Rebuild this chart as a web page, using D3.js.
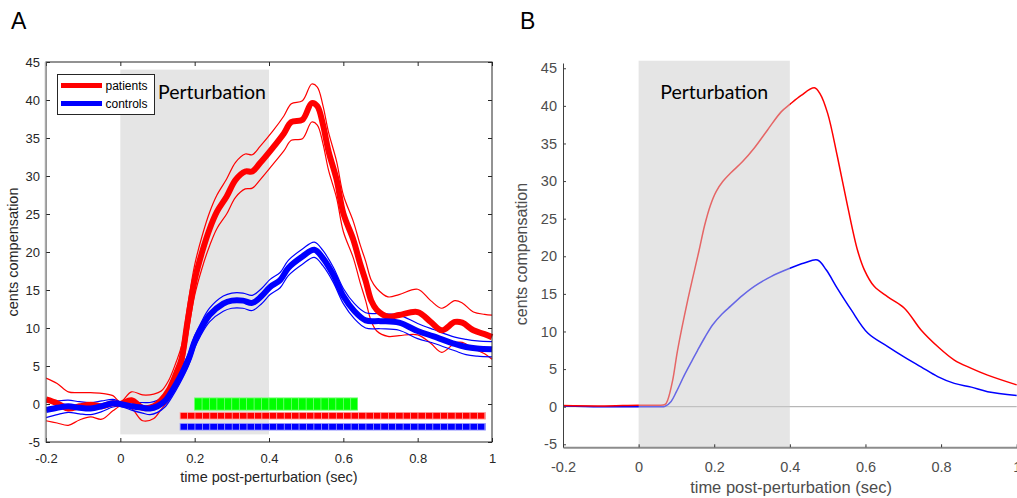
<!DOCTYPE html>
<html>
<head>
<meta charset="utf-8" />
<title>compensation</title>
<script src="https://cdn.jsdelivr.net/npm/d3@7"></script>
<style>
  body { margin: 0; background: #fff; }
  svg text { font-family: "Liberation Sans", Arial, sans-serif; }
  .pert { font-family: Lato, "Open Sans", sans-serif; }
</style>
</head>
<body>
<svg id="chart" width="1017" height="498"></svg>
<script>
  // ---- panel A: group means with +/- SE ----
  var tRed = [-0.2,-0.17,-0.14,-0.11,-0.08,-0.05,-0.02,0,0.03,0.06,0.09,0.11,0.13,0.15,0.165,0.18,0.2,0.22,0.24,0.26,
              0.286,0.31,0.336,0.355,0.376,0.41,0.44,0.46,0.49,0.515,0.53,0.545,0.56,0.582,0.6,0.627,0.645,0.66,0.675,0.69,
              0.72,0.75,0.8,0.835,0.865,0.9,0.92,0.95,0.98,1.0];
  var redMean = [0.6,0.1,-0.6,-0.3,-0.1,-0.3,0.1,0,0.5,-0.5,-0.3,0.5,1.8,4,6,10.6,16.3,20.0,23.0,25.3,
                 27.3,29.5,30.6,30.6,31.7,33.7,35.6,37.1,37.4,39.6,39.2,36.8,33.3,29.5,25.1,21.6,18.5,16.2,13.6,12.4,
                 11.5,11.7,12.1,10.8,9.7,10.8,10.7,9.7,9.2,8.8];
  var redSe = [2.8,2.6,2.2,1.8,1.6,1.7,1.0,0.3,1.1,1.7,1.6,1.2,1.3,1.5,1.7,1.9,2.0,2.1,2.2,2.2,
               2.3,2.3,2.3,2.2,2.2,2.2,2.3,2.4,2.5,2.5,2.5,2.5,2.5,2.4,2.4,2.4,2.5,2.6,2.7,2.8,
               2.6,2.7,3.0,2.8,2.9,2.8,2.6,2.4,2.6,2.9];

  var tBlue = [-0.2,-0.17,-0.14,-0.11,-0.08,-0.05,-0.02,0,0.03,0.06,0.08,0.1,0.12,0.14,0.16,0.183,0.2,0.215,0.24,0.277,
               0.3,0.33,0.355,0.38,0.403,0.43,0.452,0.49,0.522,0.545,0.573,0.6,0.63,0.66,0.7,0.75,0.8,0.843,0.9,0.93,
               0.96,1.0];
  var blueMean = [-0.8,-0.5,-0.3,-0.5,-0.6,-0.3,0.1,0,-0.3,-0.5,-0.6,-0.3,0.4,1.8,3.5,5.8,8.2,9.7,11.7,13.2,
                  13.6,13.6,13.3,14.2,15.4,16.3,17.9,19.4,20.3,19.2,17,14.2,12.2,11,10.9,10.7,9.6,8.9,7.9,7.5,
                  7.3,7.2];
  var blueSe = [1.0,0.9,0.8,0.8,0.8,0.7,0.5,0.3,0.5,0.7,0.8,0.8,0.8,0.8,0.8,0.8,0.8,0.8,0.9,1.0,
                1.0,1.0,1.0,1.0,1.0,1.0,1.0,1.0,1.0,1.0,1.0,1.0,1.0,1.0,1.0,1.0,1.0,0.9,0.9,1.0,
                1.0,1.0];

  // significant periods (sec), one bar each
  var sigStart = [0.2, 0.161, 0.161];
  var sigEnd = [0.638, 0.982, 0.982];
  var sigLevel = [0, -1.55, -3.0];
  var sigColor = ['#00ff00', '#ff0000', '#0000ff'];
  var sigEdge = ['#7dff7d', '#ffb0b0', '#a8a8ff'];

  // ---- panel B: model output ----
  var tRedB = [-0.2,-0.1,0,0.05,0.07,0.077,0.09,0.103,0.13,0.16,0.175,0.19,0.205,0.222,0.244,0.275,0.306,0.341,0.377,0.4,
               0.43,0.465,0.48,0.5,0.526,0.553,0.579,0.597,0.623,0.659,0.703,0.747,0.791,0.835,0.88,0.923,1.0];
  var redB = [0.15,0.1,0.2,0.2,0.3,0.9,3.5,7.5,14.2,20.8,24.2,26.8,28.6,29.9,31.1,32.6,34.4,36.8,39.2,40.2,
              41.4,42.4,41.6,39,33.2,26.6,20.8,18.2,16,14.6,13.1,10.2,8,6.2,5.1,4.2,2.9];
  var tBlueB = [-0.2,-0.1,0,0.05,0.07,0.086,0.1,0.121,0.14,0.156,0.175,0.196,0.22,0.244,0.275,0.306,0.35,0.4,0.438,0.473,
                0.496,0.526,0.562,0.606,0.659,0.703,0.747,0.791,0.835,0.88,0.923,1.0];
  var blueB = [0.1,0,0,0,0.05,0.7,2,4.2,6.0,7.5,9.2,10.9,12.3,13.4,14.8,16,17.3,18.4,19.1,19.5,
               18.2,15.7,12.9,9.8,8,6.6,5.3,4,3.1,2.6,2,1.5];

  var xTicks = [-0.2, 0, 0.2, 0.4, 0.6, 0.8, 1];
  var yTicks = [-5, 0, 5, 10, 15, 20, 25, 30, 35, 40, 45];
  var pertWindow = [0, 0.4];
  var sampleStep = 0.02;

  var svg = d3.select('#chart');
  var fmt = function (d) { return String(d); };
  var smooth = d3.curveCatmullRom.alpha(0.5);

  function pts(t, v) { return t.map(function (d, i) { return [d, v[i]]; }); }

  // ================= panel A =================
  var xA = d3.scaleLinear().domain([-0.2, 1]).range([46, 492]);
  var yA = d3.scaleLinear().domain([-5, 45]).range([442, 62]);
  var gA = svg.append('g');
  var lineA = d3.line().x(function (d) { return xA(d[0]); }).y(function (d) { return yA(d[1]); })
      .curve(smooth);

  gA.append('rect')
      .attr('x', xA(pertWindow[0])).attr('width', xA(pertWindow[1]) - xA(pertWindow[0]))
      .attr('y', yA(44)).attr('height', yA(-4) - yA(44))
      .attr('fill', '#e5e5e5');

  // significance bars, drawn as one square per sample
  sigStart.forEach(function (s, k) {
    var h = k === 0 ? 12 : 6.4;
    var cells = [];
    for (var t = s; t < sigEnd[k] - 1e-6; t += sampleStep) cells.push(t);
    gA.append('rect')
        .attr('x', xA(s) - 0.5).attr('width', xA(sigEnd[k]) - xA(s) + 1)
        .attr('y', yA(sigLevel[k]) - h / 2 - 0.5).attr('height', h + 1)
        .attr('fill', sigEdge[k]);
    gA.selectAll(null).data(cells).enter().append('rect')
        .attr('x', function (d) { return xA(d); })
        .attr('width', function (d) { return xA(Math.min(d + sampleStep, sigEnd[k])) - xA(d); })
        .attr('y', yA(sigLevel[k]) - h / 2).attr('height', h)
        .attr('fill', sigColor[k]).attr('stroke', sigEdge[k]).attr('stroke-width', 0.6);
  });

  var groups = [
    { t: tRed, m: redMean, se: redSe, c: '#ff0000' },
    { t: tBlue, m: blueMean, se: blueSe, c: '#0000ff' }
  ];
  groups.forEach(function (g) {
    var up = g.m.map(function (v, i) { return v + g.se[i]; });
    var lo = g.m.map(function (v, i) { return v - g.se[i]; });
    [up, lo].forEach(function (b) {
      gA.append('path').attr('d', lineA(pts(g.t, b)))
          .attr('fill', 'none').attr('stroke', g.c).attr('stroke-width', 1.2);
    });
  });
  groups.forEach(function (g) {
    gA.append('path').attr('d', lineA(pts(g.t, g.m)))
        .attr('fill', 'none').attr('stroke', g.c).attr('stroke-width', 6)
        .attr('stroke-linejoin', 'round');
  });

  // axes with inward ticks, box all round
  function tidy(g) { g.select('.domain').remove(); g.selectAll('.tick line').attr('stroke', '#262626'); }
  gA.append('g').attr('transform', 'translate(0,442)')
      .call(d3.axisBottom(xA).tickValues(xTicks).tickFormat(fmt).tickSizeInner(-4).tickSizeOuter(0))
      .call(tidy)
      .call(function (g) {
        g.selectAll('text').attr('y', 21).attr('dy', null).attr('font-size', 13).attr('fill', '#262626');
      });
  gA.append('g').attr('transform', 'translate(0,62)')
      .call(d3.axisTop(xA).tickValues(xTicks).tickFormat('').tickSizeInner(-4).tickSizeOuter(0))
      .call(tidy);
  gA.append('g').attr('transform', 'translate(46,0)')
      .call(d3.axisLeft(yA).tickValues(yTicks).tickFormat(fmt).tickSizeInner(-4).tickSizeOuter(0).tickPadding(6))
      .call(tidy)
      .call(function (g) { g.selectAll('text').attr('font-size', 13).attr('fill', '#262626'); });
  gA.append('g').attr('transform', 'translate(492,0)')
      .call(d3.axisRight(yA).tickValues(yTicks).tickFormat('').tickSizeInner(-4).tickSizeOuter(0))
      .call(tidy);
  gA.append('rect').attr('x', 46).attr('y', 62).attr('width', 446).attr('height', 380)
      .attr('fill', 'none').attr('stroke', '#262626').attr('stroke-width', 1);
  gA.append('line').attr('x1', 45.5).attr('x2', 45.5).attr('y1', 62).attr('y2', 442)
      .attr('stroke', '#aaaaaa').attr('stroke-width', 1.5);

  // legend
  var leg = gA.append('g');
  leg.append('rect').attr('x', 57.5).attr('y', 74.5).attr('width', 97).attr('height', 40)
      .attr('fill', '#fff').attr('stroke', '#262626');
  [['patients', '#ff0000', 85.5], ['controls', '#0000ff', 103.5]].forEach(function (e) {
    leg.append('line').attr('x1', 61).attr('x2', 102).attr('y1', e[2]).attr('y2', e[2])
        .attr('stroke', e[1]).attr('stroke-width', 5);
    leg.append('text').attr('x', 105.5).attr('y', e[2] + 4.5).attr('font-size', 12).attr('fill', '#000').text(e[0]);
  });

  gA.append('text').attr('class', 'pert').attr('x', 158).attr('y', 99).attr('font-size', 19.5).text('Perturbation');
  gA.append('text').attr('x', 269).attr('y', 482).attr('text-anchor', 'middle').attr('font-size', 14.5)
      .attr('fill', '#262626').text('time post-perturbation (sec)');
  gA.append('text').attr('transform', 'translate(18,252) rotate(-90)').attr('text-anchor', 'middle')
      .attr('font-size', 14.5).attr('fill', '#262626').text('cents compensation');
  gA.append('text').attr('x', 11).attr('y', 29).attr('font-size', 23).text('A');

  // ================= panel B =================
  var xB = d3.scaleLinear().domain([-0.2, 1]).range([563, 1016.7]);
  var yB = d3.scaleLinear().domain([-5.4, 45.7]).range([447.3, 63]);
  var gB = svg.append('g');
  var lineB = d3.line().x(function (d) { return xB(d[0]); }).y(function (d) { return yB(d[1]); })
      .curve(smooth);

  gB.append('line').attr('x1', xB(-0.2)).attr('x2', xB(1)).attr('y1', yB(0)).attr('y2', yB(0))
      .attr('stroke', '#a6a6a6').attr('stroke-width', 1);
  gB.append('path').attr('d', lineB(pts(tBlueB, blueB))).attr('fill', 'none')
      .attr('stroke', '#0000ff').attr('stroke-width', 1.5);
  gB.append('path').attr('d', lineB(pts(tRedB, redB))).attr('fill', 'none')
      .attr('stroke', '#ff0000').attr('stroke-width', 1.5);
  // translucent patch laid over the lines
  gB.append('rect')
      .attr('x', xB(pertWindow[0])).attr('width', xB(pertWindow[1]) - xB(pertWindow[0]))
      .attr('y', yB(46)).attr('height', yB(-5.4) - yB(46))
      .attr('fill', '#cbcbcb').attr('fill-opacity', 0.5);

  gB.append('g').attr('transform', 'translate(563,0)')
      .call(d3.axisLeft(yB).tickValues(yTicks).tickFormat(fmt).tickSizeInner(-3).tickSizeOuter(0).tickPadding(6))
      .call(function (g) {
        g.select('.domain').attr('stroke', '#404040');
        g.selectAll('.tick line').attr('stroke', '#404040');
        g.selectAll('text').attr('font-size', 14.5).attr('fill', '#4d4d4d');
      });
  gB.append('g').attr('transform', 'translate(0,447.3)')
      .call(d3.axisBottom(xB).tickValues(xTicks).tickFormat(fmt).tickSizeInner(-3).tickSizeOuter(0))
      .call(function (g) {
        g.select('.domain').attr('stroke', '#8c8c8c').attr('stroke-width', 2);
        g.selectAll('.tick line').attr('stroke', '#333');
        g.selectAll('text').attr('y', 24.5).attr('dy', null).attr('font-size', 14.5).attr('fill', '#4d4d4d');
      });

  gB.append('text').attr('class', 'pert').attr('x', xB(0.2)).attr('y', 99).attr('text-anchor', 'middle')
      .attr('font-size', 19.5).text('Perturbation');
  gB.append('text').attr('x', 791).attr('y', 493).attr('text-anchor', 'middle').attr('font-size', 16.5)
      .attr('fill', '#4d4d4d').text('time post-perturbation (sec)');
  gB.append('text').attr('transform', 'translate(527,254) rotate(-90)').attr('text-anchor', 'middle')
      .attr('font-size', 16).attr('fill', '#4d4d4d').text('cents compensation');
  gB.append('text').attr('x', 520).attr('y', 29).attr('font-size', 23).text('B');
</script>
</body>
</html>
